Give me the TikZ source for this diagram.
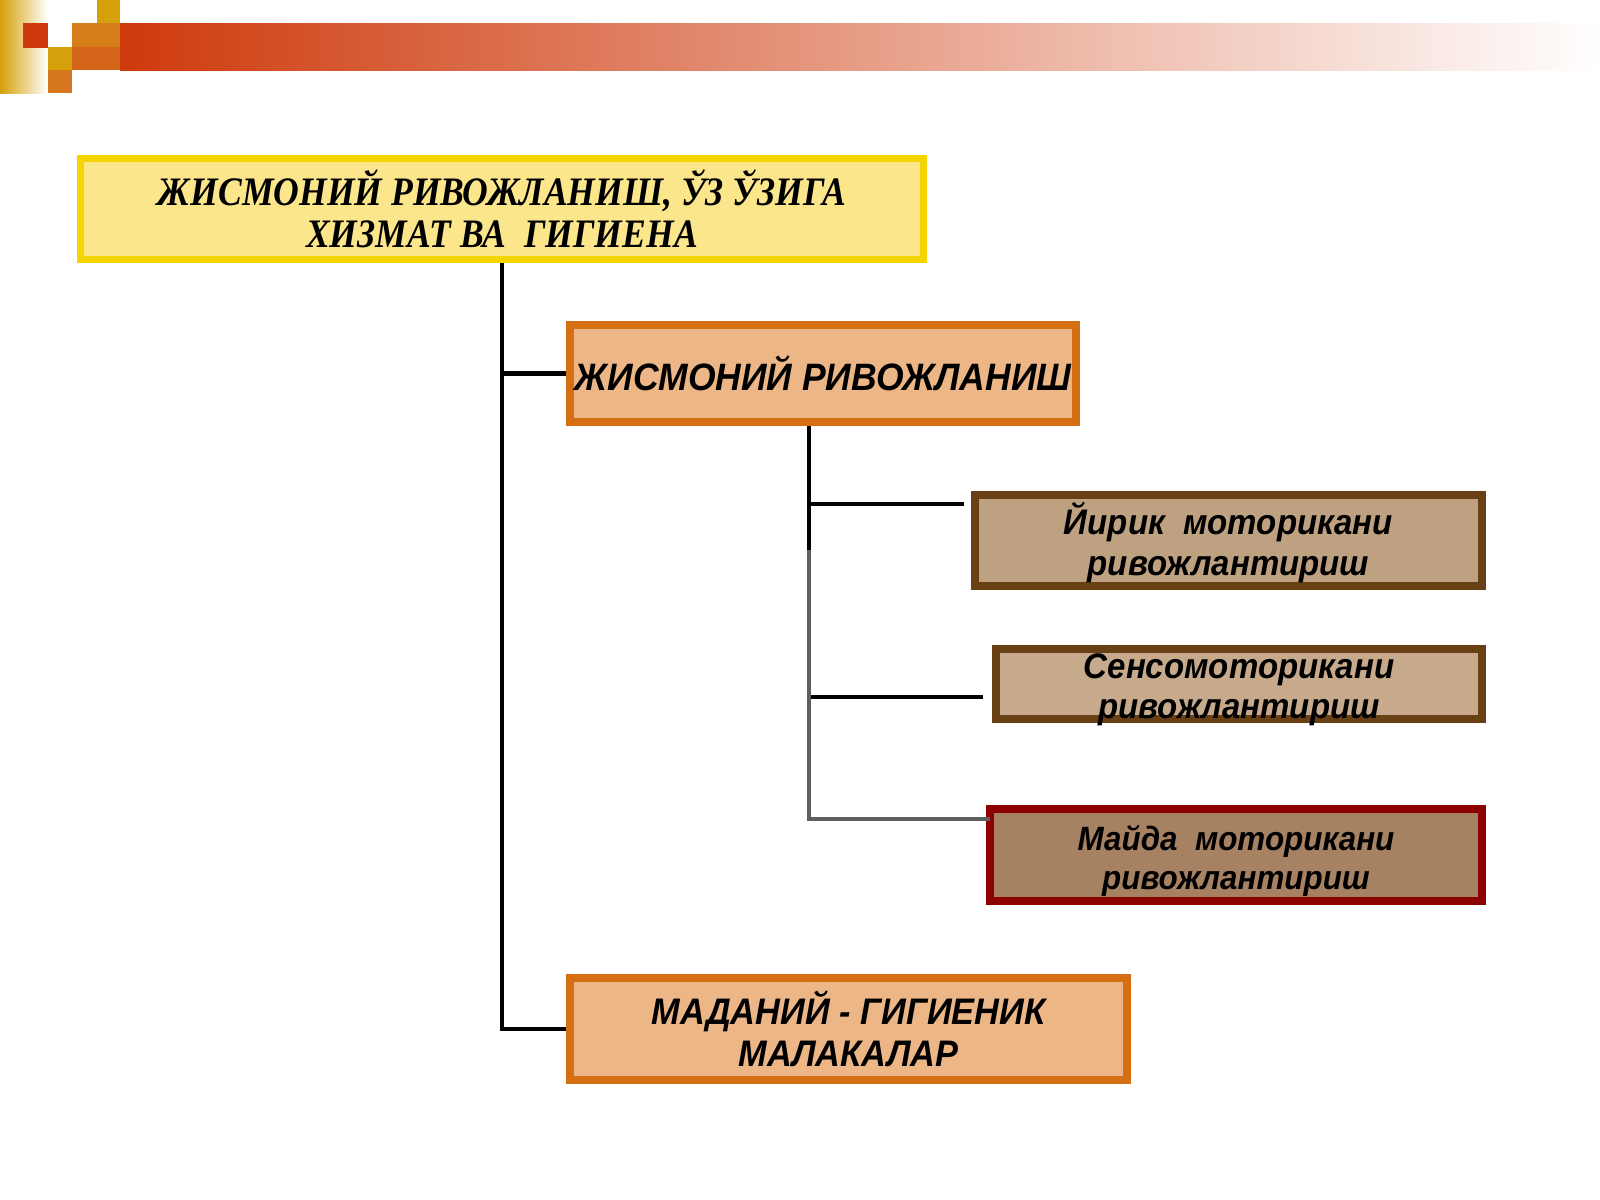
\documentclass[tikz,border=0pt]{standalone}
\usepackage{fontspec}
\setmainfont{Liberation Serif}
\setsansfont{Liberation Sans}
\newfontfamily\titlefont[FakeStretch=0.88]{Liberation Serif}
\newfontfamily\boxfont[FakeStretch=0.93]{Liberation Sans}

\definecolor{bannerred}{RGB}{206,58,12}
\definecolor{bannergold}{RGB}{214,160,10}
\definecolor{bannerorange}{RGB}{214,118,30}
\definecolor{topborder}{RGB}{246,212,0}
\definecolor{topfill}{RGB}{252,230,140}
\definecolor{orangeborder}{RGB}{214,110,20}
\definecolor{orangefill}{RGB}{237,182,134}
\definecolor{brownborder}{RGB}{105,64,20}
\definecolor{tanfill}{RGB}{190,161,128}
\definecolor{lighttan}{RGB}{199,170,140}
\definecolor{redborder}{RGB}{140,0,0}
\definecolor{darktan}{RGB}{166,130,98}
\definecolor{linkgrey}{RGB}{95,95,95}

\tikzset{
  box/.style={draw, line width=2.3pt, inner sep=0pt, align=center},
  topbox/.style={box, line width=2pt, draw=topborder, fill=topfill,
    font=\titlefont\bfseries\itshape\fontsize{11.5}{11.9}\selectfont},
  areabox/.style={box, draw=orangeborder, fill=orangefill,
    font=\boxfont\bfseries\itshape\fontsize{10.6}{11.9}\selectfont},
  skillbox/.style={box},
  skilltext/.style={align=center, inner sep=0pt,
    font=\boxfont\bfseries\itshape\fontsize{10.1}{11.4}\selectfont},
  link/.style={line width=1.2pt, draw=black}
}

\begin{document}
\begin{tikzpicture}[x=0.01cm,y=-0.01cm]
	\useasboundingbox (0,0) rectangle (1600,1200);

	% banner
	\shade[left color=bannergold, right color=white] (0,0) rectangle (48,93);
	\fill[bannergold] (97,0) rectangle (120,23);
	\fill[bannerorange!80!bannergold] (72,23) rectangle (120,47);
	\fill[bannerred] (23,23) rectangle (48,48);
	\fill[bannergold] (48,47) rectangle (72,70);
	\fill[bannerorange] (48,70) rectangle (72,93);
	\shade[left color=bannerred, right color=white] (120,23) rectangle (1600,70);
	\fill[bannerorange!70!bannerred] (72,47) rectangle (120,70);

	% boxes
	\node[topbox, minimum width=8.42cm, minimum height=1.01cm] (top) at (502,209)
		{ЖИСМОНИЙ РИВОЖЛАНИШ, ЎЗ ЎЗИГА\\ХИЗМАТ ВА~~ГИГИЕНА};
	\node[areabox, minimum width=5.06cm, minimum height=0.97cm, font=\boxfont\bfseries\itshape\fontsize{10.85}{11.9}\selectfont] (phys) at (823,373.5)
		{ЖИСМОНИЙ РИВОЖЛАНИШ};
	\node[skillbox, draw=brownborder, fill=tanfill, minimum width=5.07cm, minimum height=0.91cm] (gross) at (1228.5,540.5) {};
	\node[skilltext] (grosstext) at ([yshift=-0.02cm]gross) {Йирик~~моторикани\\ривожлантириш};
	\node[skillbox, draw=brownborder, fill=lighttan, minimum width=4.86cm, minimum height=0.70cm] (senso) at (1239,684) {};
	\node[skilltext] (sensotext) at ([yshift=-0.06cm]senso) {Сенсомоторикани\\ривожлантириш};
	\node[skillbox, draw=redborder, fill=darktan, minimum width=4.92cm, minimum height=0.92cm] (fine) at (1236,855) {};
	\node[skilltext, font=\boxfont\bfseries\itshape\fontsize{9.6}{11.2}\selectfont] (finetext) at ([yshift=-0.06cm]fine)
		{Майда~~моторикани\\ривожлантириш};
	\node[areabox, minimum width=5.57cm, minimum height=1.02cm, font=\boxfont\bfseries\itshape\fontsize{10.5}{11.9}\selectfont] (culture) at (848.5,1029)
		{МАДАНИЙ - ГИГИЕНИК\\МАЛАКАЛАР};

	% connectors
	\coordinate (fork) at (809,0);
	\draw[link] (top.south) |- (phys.west);
	\draw[link] (top.south) |- (culture.west);
	\draw[link, shorten >=0.07cm] (phys.south -| fork) |- ([yshift=0.365cm]gross.west);
	\draw[link, shorten >=0.09cm] (phys.south -| fork) |- ([yshift=-0.13cm]senso.west);
	\draw[link, draw=linkgrey, shorten >=-0.04cm] ([yshift=-1.24cm]phys.south -| fork) |- ([yshift=0.36cm]fine.west);
\end{tikzpicture}
\end{document}
